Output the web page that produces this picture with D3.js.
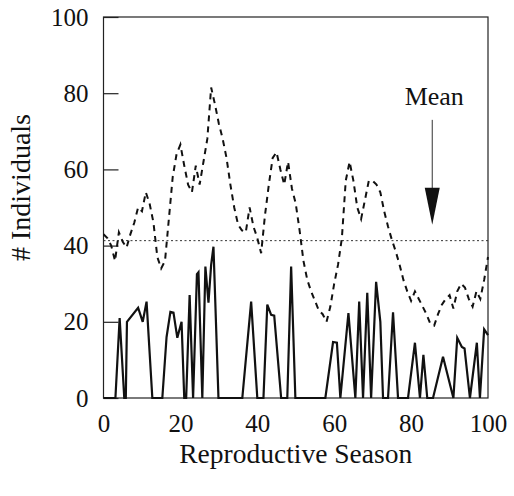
<!DOCTYPE html>
<html>
  <head>
    <script src="https://d3js.org/d3.v7.min.js"></script>
    <style>
      body { margin: 0; background: #fff; }
      text { font-family: "Liberation Serif", "Times New Roman", serif; fill: #111; }
    </style>
  </head>
  <body>
    <svg width="514" height="496"></svg>
    <script>
      // dashed series, one value per reproductive season 0..100
      var seasons = d3.range(0, 101);
      var dashedVals = [43, 42, 40, 36, 43.5, 41, 39.5, 43, 46, 50,
        49, 54, 51, 46, 37, 34, 36, 47, 58, 64,
        66.5, 61, 56, 54, 61, 56, 62, 68, 81.5, 77,
        72, 68, 63, 56, 50, 45.5, 44, 43.5, 50, 45,
        42, 38, 48, 56, 63, 64.5, 60, 56, 62, 55,
        51, 44, 36, 31, 28, 25.5, 23, 22, 20, 24,
        30, 35, 42, 57, 62, 57, 50, 47, 52, 57,
        57, 56, 54, 49, 45, 41.5, 38.5, 35, 31, 28,
        25.5, 28, 26, 24, 22, 19.5, 19, 22, 24.5, 26,
        27, 23.5, 28, 30, 29, 26, 24, 28, 26, 31, 37];

      // solid series, read as (season, count) vertices
      var solidX = [0, 3.1, 4.2, 5.4, 5.8, 6.1, 9, 10.2, 11.2, 12.7,
        15.3, 16.4, 17.4, 18.2, 19.2, 20.3, 21, 21.5, 22.4, 23.3,
        24.3, 24.7, 25.7, 26.5, 27.3, 28, 28.6, 29.9, 36.1, 38.4,
        40, 41.6, 42.6, 43.6, 44.4, 46.2, 47.8, 48.8, 49.9, 57.7,
        59.7, 60.7, 61.6, 63.7, 65.5, 66.5, 67.5, 68.6, 69.6, 70.9,
        72, 72.7, 74, 75.3, 76.6, 79.2, 81, 82.3, 83.2, 84.2,
        85.7, 88.3, 91, 92, 93.2, 93.9, 95.3, 97.1, 97.9, 99, 100];
      var solidY = [0, 0, 21, 0, 0, 20, 23.7, 20, 25.3, 0,
        0, 16, 22.6, 22.4, 15.8, 20, 0, 0, 27, 0,
        32.5, 33, 0, 34.5, 25, 35, 39.7, 0, 0, 25.3,
        0, 0, 24.5, 21.8, 21.6, 0, 0, 34.5, 0, 0,
        14.7, 14.5, 0, 22.3, 0, 25.3, 0, 27.6, 0, 30.5,
        20, 0, 0, 22.5, 0, 0, 14.5, 0, 11.3, 0,
        0, 10.8, 0, 15.8, 13.4, 13, 0, 14.5, 0, 18, 16.5];

      var meanValue = 41.3;
      var arrowSeason = 85.5;
      var arrowTop = 73;
      var arrowTip = 45.5;
      var xTicks = [0, 20, 40, 60, 80, 100];
      var yTicks = [0, 20, 40, 60, 80, 100];

      var svg = d3.select("svg");
      var plotLeft = 103.5, plotRight = 488, plotTop = 17, plotBottom = 398;

      var x = d3.scaleLinear().domain([0, 100]).range([plotLeft, plotRight]);
      var y = d3.scaleLinear().domain([0, 100]).range([plotBottom, plotTop]);

      // frame
      svg.append("rect")
        .attr("x", plotLeft).attr("y", plotTop)
        .attr("width", plotRight - plotLeft).attr("height", plotBottom - plotTop)
        .attr("fill", "none").attr("stroke", "#222").attr("stroke-width", 1.2);

      // y axis, ticks pointing inward
      var yAxis = d3.axisLeft(y).tickValues(yTicks).tickSize(-15).tickPadding(15);
      var gy = svg.append("g").attr("transform", "translate(" + plotLeft + ",0)").call(yAxis);
      gy.select(".domain").remove();
      gy.selectAll("line").attr("stroke", "#222").attr("stroke-width", 1.2);
      gy.selectAll("text").attr("font-size", 25).style("font-family", "Liberation Serif");

      var xAxis = d3.axisBottom(x).tickValues(xTicks).tickSize(0).tickPadding(16);
      var gx = svg.append("g").attr("transform", "translate(0," + plotBottom + ")").call(xAxis);
      gx.select(".domain").remove();
      gx.selectAll("text").attr("font-size", 25).style("font-family", "Liberation Serif");

      // mean line
      svg.append("line")
        .attr("x1", x(0)).attr("x2", x(100))
        .attr("y1", y(meanValue)).attr("y2", y(meanValue))
        .attr("stroke", "#333").attr("stroke-width", 1)
        .attr("stroke-dasharray", "2,2.5");

      var line = d3.line()
        .x(function (d) { return x(d[0]); })
        .y(function (d) { return y(d[1]); });

      svg.append("path")
        .datum(seasons.map(function (s, i) { return [s, dashedVals[i]]; }))
        .attr("d", line)
        .attr("fill", "none").attr("stroke", "#111")
        .attr("stroke-width", 2).attr("stroke-dasharray", "6,5");

      svg.append("path")
        .datum(solidX.map(function (s, i) { return [s, solidY[i]]; }))
        .attr("d", line)
        .attr("fill", "none").attr("stroke", "#111")
        .attr("stroke-width", 2.2).attr("stroke-linejoin", "miter");

      // Mean annotation
      svg.append("text")
        .attr("x", x(arrowSeason) + 2).attr("y", 105)
        .attr("text-anchor", "middle").attr("font-size", 26)
        .text("Mean");
      svg.append("line")
        .attr("x1", x(arrowSeason)).attr("x2", x(arrowSeason))
        .attr("y1", y(arrowTop)).attr("y2", y(arrowTip) - 30)
        .attr("stroke", "#333").attr("stroke-width", 1);
      var ax = x(arrowSeason), ay = y(arrowTip);
      svg.append("path")
        .attr("d", "M" + (ax - 7.5) + "," + (ay - 37) + "L" + (ax + 7.5) + "," + (ay - 37) + "L" + ax + "," + ay + "Z")
        .attr("fill", "#111");

      // axis titles
      svg.append("text")
        .attr("x", (plotLeft + plotRight) / 2).attr("y", 463)
        .attr("text-anchor", "middle").attr("font-size", 27.5)
        .text("Reproductive Season");
      svg.append("text")
        .attr("transform", "translate(30," + ((plotTop + plotBottom) / 2 - 20) + ") rotate(-90)")
        .attr("text-anchor", "middle").attr("font-size", 28)
        .text("# Individuals");
    </script>
  </body>
</html>
